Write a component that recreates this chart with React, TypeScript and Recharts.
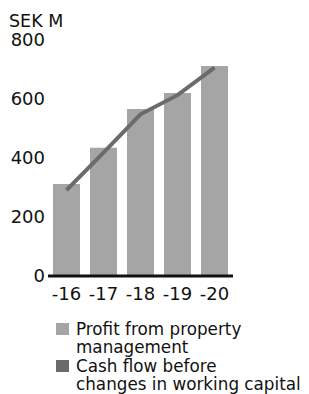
import React from 'react';
import { ComposedChart, Bar, Line, XAxis, YAxis, Legend, Customized } from 'recharts';

const years = ['-16', '-17', '-18', '-19', '-20'];
const profitFromPropertyManagement = [312, 435, 566, 620, 712];
const cashFlowBeforeWorkingCapital = [291, 418, 548, 613, 706];
const yTicks = [0, 200, 400, 600, 800];
const seriesNames = ['Profit from property\nmanagement', 'Cash flow before\nchanges in working capital'];
const seriesColors = ['#a5a5a5', '#6b6b6b'];

const data = years.map((y, i) => ({
  year: y,
  profit: profitFromPropertyManagement[i],
  cash: cashFlowBeforeWorkingCapital[i],
}));

const FONT = '"DejaVu Sans", sans-serif';

const LegendContent = () => {
  const tops = [13.6, 51];
  const sqTops = [17, 54];
  return (
    <div style={{ position: 'relative', width: 309, height: 88, fontFamily: FONT, fontSize: 16.8, color: '#111' }}>
      {seriesNames.map((n, i) => (
        <React.Fragment key={n}>
          <div style={{ position: 'absolute', left: 56, top: sqTops[i], width: 13, height: 12, background: seriesColors[i] }} />
          <div style={{ position: 'absolute', left: 76, top: tops[i], lineHeight: '18.2px', whiteSpace: 'pre' }}>{n}</div>
        </React.Fragment>
      ))}
    </div>
  );
};

export default function App() {
  return (
    <div style={{ position: 'absolute', left: 0, top: 0, width: 309, height: 394, background: '#fff' }}>
      <ComposedChart width={309} height={394} data={data} margin={{ top: 40, right: 76, bottom: 0, left: 0 }}>
        <XAxis
          dataKey="year"
          axisLine={{ stroke: '#111', strokeWidth: 3 }}
          tickLine={false}
          tickSize={6}
          tickMargin={5}
          height={30}
          interval={0}
          tick={{ fill: '#111', fontSize: 18, fontFamily: FONT }}
        />
        <YAxis
          domain={[0, 800]}
          ticks={yTicks}
          axisLine={false}
          tickLine={false}
          tickSize={0}
          tickMargin={3}
          width={48}
          tick={{ fill: '#111', fontSize: 18, fontFamily: FONT }}
        />
        <Bar dataKey="profit" name={seriesNames[0]} fill={seriesColors[0]} barSize={27} isAnimationActive={false} />
        <Line dataKey="cash" name={seriesNames[1]} type="linear" stroke={seriesColors[1]} strokeWidth={4} dot={false} isAnimationActive={false} />
        <Legend verticalAlign="bottom" height={88} content={<LegendContent />} wrapperStyle={{ left: 0, width: 309 }} />
        <Customized component={() => (
          <text x={9} y={26.5} fontSize={17.5} fontFamily={FONT} fill="#111">SEK M</text>
        )} />
      </ComposedChart>
    </div>
  );
}
